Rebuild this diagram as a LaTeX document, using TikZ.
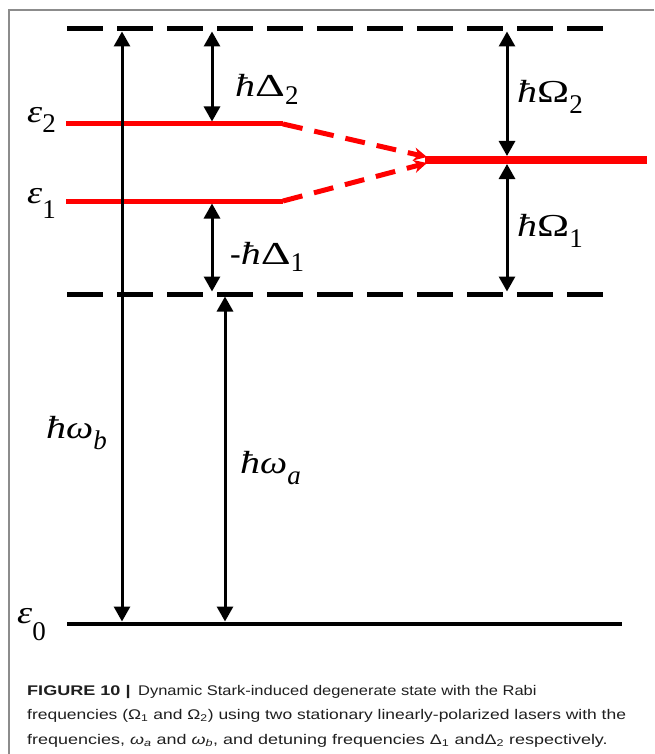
\documentclass[tikz,border=0pt]{standalone}
\usepackage{fontspec}
\usepackage{graphicx}
\setmainfont{Liberation Serif}
\newfontfamily\capfont{Liberation Sans}
\usetikzlibrary{arrows.meta}
\newcommand{\hb}{\scalebox{1.25}[1]{\textit{ħ}}}
\newcommand{\GD}{\scalebox{1.45}[1]{Δ}}
\newcommand{\GO}{\scalebox{1.35}[1]{Ω}}
\newcommand{\Gw}{\scalebox{1.2}[1]{\textit{ω}}}
\newcommand{\Ge}{\scalebox{1.2}[1]{\textit{ε}}}
\newcommand{\lsub}[2][8]{\raisebox{-#1pt}{\fontsize{27}{27}\selectfont #2}}
\newcommand{\capx}[2]{\scalebox{#1}[1]{#2}}
\definecolor{lred}{RGB}{255,0,0}
\definecolor{framegray}{RGB}{140,140,140}
\begin{document}
\begin{tikzpicture}[x=1pt,y=-1pt,
  lvl/.style={line width=5pt, dash pattern=on 36pt off 14pt},
  gnd/.style={line width=4.5pt},
  redlvl/.style={draw=lred, line width=5pt},
  redthick/.style={draw=lred, line width=8pt},
  reddash/.style={draw=lred, line width=5pt, dash pattern=on 20pt off 12pt,
     -{Stealth[length=13pt,width=13pt,inset=4pt]}},
  arr/.style={line width=3pt, {Triangle[width=16pt,length=15pt]}-{Triangle[width=16pt,length=15pt]}},
  lab/.style={anchor=base west, inner sep=0pt, font=\fontsize{32}{32}\selectfont},
  captext/.style={anchor=base west, inner sep=0pt, font=\capfont\fontsize{14}{14}\selectfont, text=black!88}
]
\useasboundingbox (0,0) rectangle (654,754);
% frame
\draw[framegray, line width=1.2pt] (9,754) -- (9,10) -- (654,10);
% level coordinates
\coordinate (T1) at (67,29);  \coordinate (T2) at (606,29);
\coordinate (L1) at (67,294); \coordinate (L2) at (606,294);
\coordinate (G1) at (67,624); \coordinate (G2) at (622,624);
\coordinate (E2a) at (66,124); \coordinate (E2b) at (283,124);
\coordinate (E1a) at (66,201); \coordinate (E1b) at (283,201);
\coordinate (M1) at (425,160); \coordinate (M2) at (647,160);
\coordinate (A2) at (427,157); \coordinate (A1) at (427,163);
% levels
\draw[lvl] (T1) -- (T2);
\draw[lvl] (L1) -- (L2);
\draw[gnd] (G1) -- (G2);
\draw[redlvl] (E2a) -- (E2b);
\draw[redlvl] (E1a) -- (E1b);
\draw[redthick] (M1) -- (M2);
\draw[reddash] (E2b) -- (A2);
\draw[reddash] (E1b) -- (A1);
% arrow end points
\coordinate (bT) at (122,31.5);  \coordinate (bB) at (122,621.5);
\coordinate (aT) at (225,296.5); \coordinate (aB) at (225,621.5);
\coordinate (d2T) at (212,31.5); \coordinate (d2B) at (212,121.5);
\coordinate (d1T) at (212,203.5); \coordinate (d1B) at (212,291.5);
\coordinate (o2T) at (507,31.5); \coordinate (o2B) at (507,156);
\coordinate (o1T) at (507,164);  \coordinate (o1B) at (507,291.5);
\draw[arr] (bB) -- (bT);
\draw[arr] (aB) -- (aT);
\draw[arr] (d2B) -- (d2T);
\draw[arr] (d1B) -- (d1T);
\draw[arr] (o2B) -- (o2T);
\draw[arr] (o1B) -- (o1T);
% labels
\node[lab] (e2) at (27,123) {\Ge\lsub[10]{2}};
\node[lab] (e1) at (27,203) {\Ge\lsub[15]{1}};
\node[lab] (e0) at (17,623) {\Ge\lsub[17]{0}};
\node[lab] (ld2) at (235,97) {\hb\GD\lsub[8]{2}};
\node[lab] (ld1) at (230,264) {-\hb\GD\lsub[7]{1}};
\node[lab] (lo2) at (517,103) {\hb\GO\lsub[11]{2}};
\node[lab] (lo1) at (517,236) {\hb\GO\lsub[11]{1}};
\node[lab] (lwb) at (46,438) {\hb\Gw\lsub[11]{\textit{b}}};
\node[lab] (lwa) at (240,473) {\hb\Gw\lsub[11]{\textit{a}}};
% caption
\node[captext] (c1a) at (27,695) {\capx{1.29}{\bfseries FIGURE 10 |}};
\node[captext] (c1b) at (138,695) {\capx{1.177}{Dynamic Stark-induced degenerate state with the Rabi}};
\node[captext] (c2) at (27,719) {\capx{1.247}{frequencies (Ω\textsubscript{1} and Ω\textsubscript{2}) using two stationary linearly-polarized lasers with the}};
\node[captext] (c3) at (27,744) {\capx{1.283}{frequencies, \textit{ω}\textsubscript{\textit{a}} and \textit{ω}\textsubscript{\textit{b}}, and detuning frequencies Δ\textsubscript{1} andΔ\textsubscript{2} respectively.}};
\end{tikzpicture}
\end{document}
